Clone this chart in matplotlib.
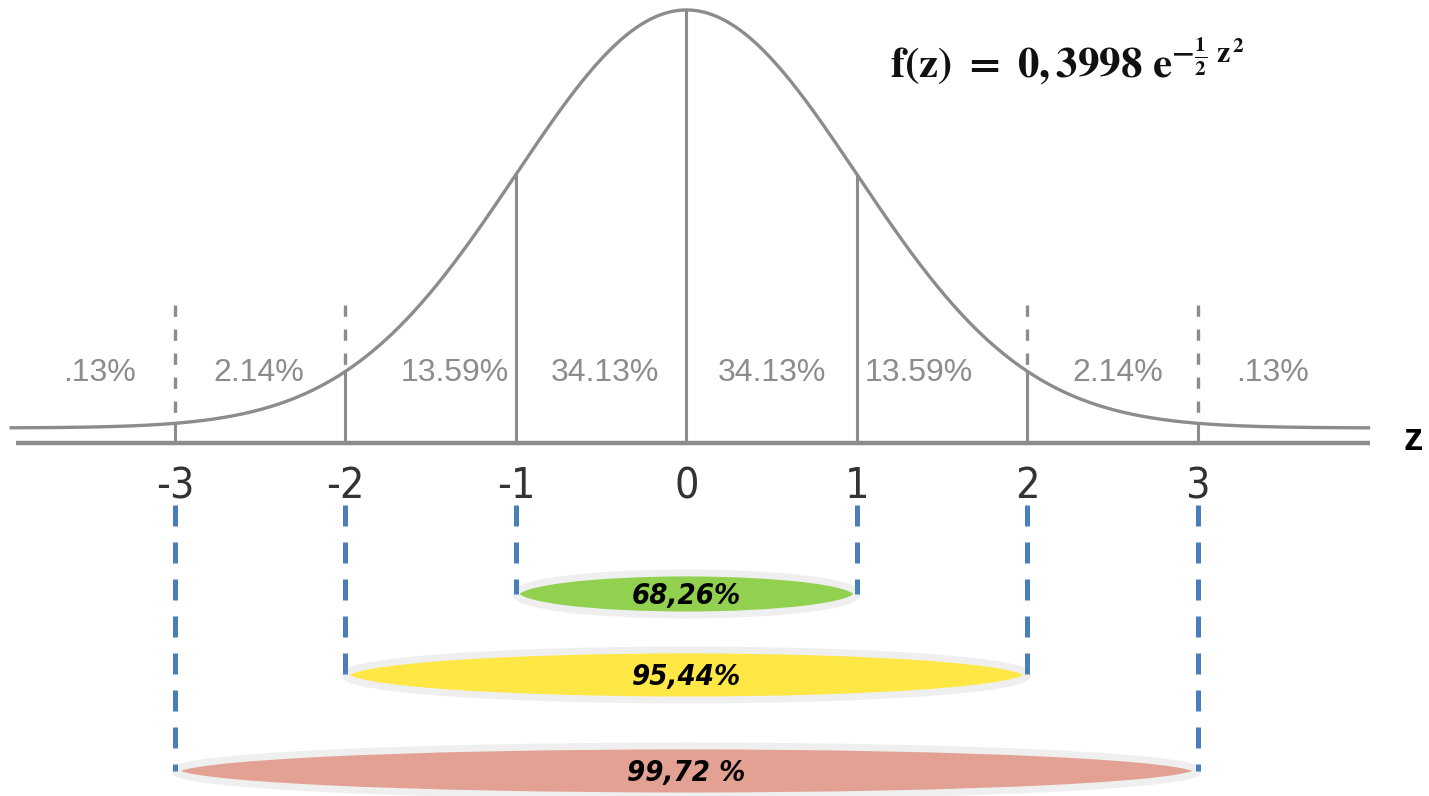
import matplotlib
matplotlib.use("Agg")
import matplotlib.pyplot as plt
from matplotlib.patches import Ellipse
import numpy as np

# z values where the curve is split
z_ticks = [-3, -2, -1, 0, 1, 2, 3]
tick_labels = ["-3", "-2", "-1", "0", "1", "2", "3"]

# area share of each slice under the curve
slice_labels = [".13%", "2.14%", "13.59%", "34.13%", "34.13%", "13.59%", "2.14%", ".13%"]
slice_pos = [-3.44, -2.51, -1.36, -0.48, 0.50, 1.36, 2.53, 3.44]

# symmetric ranges around the mean
band_limits = [1, 2, 3]
band_labels = ["68,26%", "95,44%", "99,72 %"]
band_colors = ["#92d050", "#ffe745", "#e2a192"]

PEAK = 0.3989  # density at z = 0


def density(z):
    return PEAK * np.exp(-0.5 * np.asarray(z) ** 2)


plt.rcParams["mathtext.fontset"] = "stix"

fig = plt.figure(figsize=(14.29, 7.96), dpi=100)
ax = fig.add_axes([0, 0, 1, 1])
ax.set_xlim(-4.026, 4.355)
ax.set_ylim(-0.3512, 0.4084)
ax.axis("off")

curve_col = "#8c8c8c"
narrow = ["DejaVu Sans"]

# bell curve and the axis line under it
zz = np.linspace(-3.97, 4.01, 600)
ax.plot(zz, density(zz), color=curve_col, lw=2.4, solid_capstyle="butt")
ax.plot([-3.93, 4.01], [-0.0143, -0.0143], color=curve_col, lw=3.2, solid_capstyle="butt")

# verticals: solid under the curve, dashed above it at +-2 and +-3
for z in z_ticks:
    ax.plot([z, z], [-0.0143, density(z)], color=curve_col, lw=2.2, solid_capstyle="butt")
    if abs(z) >= 2:
        ax.plot([z, z], [0.1174, density(z)], color=curve_col, lw=2.4,
                linestyle=(0, (3.4, 3.8)))

for lab, x in zip(slice_labels, slice_pos):
    ax.text(x, 0.0525, lab, ha="center", va="center", fontsize=23,
            color="#8c8c8c", family=["Liberation Sans", "DejaVu Sans"])

for z, lab in zip(z_ticks, tick_labels):
    ax.text(z, -0.0555, lab, ha="center", va="center", fontsize=31,
            color="#333333", family=narrow, fontstretch="condensed")

ax.text(4.261, -0.0115, "z", ha="center", va="center", fontsize=28,
        fontweight="bold", color="black", family=["Liberation Sans", "DejaVu Sans"])

ax.text(1.193, 0.334, r"$\mathbf{f(z)\ =\ 0,3998\ e^{-\frac{1}{2}\ z^{\,2}}}$",
        ha="left", va="baseline", fontsize=31, color="#111111")

# coverage bands below the axis
band_y = [-0.1584, -0.2357, -0.3273]
band_h = [0.0401, 0.0477, 0.0477]
for lim, lab, col, yc, h in zip(band_limits, band_labels, band_colors, band_y, band_h):
    ax.add_patch(Ellipse((0, yc), 2 * lim, h, facecolor=col, edgecolor="#efefef",
                         lw=5, zorder=2))
    ax.text(0, yc - 0.002, lab, ha="center", va="center", fontsize=21,
            fontweight="bold", fontstyle="italic", color="black", zorder=4,
            family=narrow, fontstretch="condensed")
    for z in (-lim, lim):
        ax.plot([z, z], [-0.0735, yc], color="#4a7ebb", lw=3.6,
                linestyle=(0, (4.2, 3.2)), zorder=3)

fig.savefig("out.png", dpi=100)
